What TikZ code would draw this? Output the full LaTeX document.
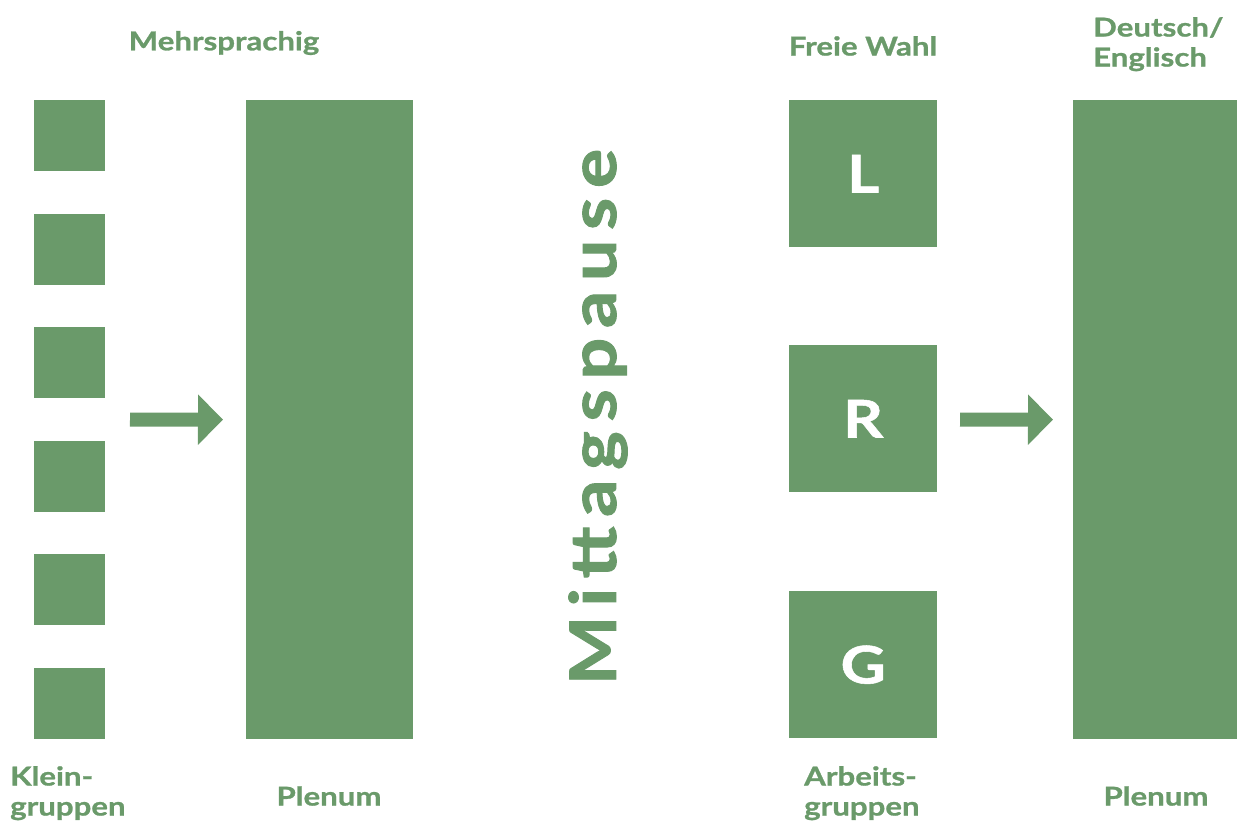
\documentclass[tikz,border=0pt]{standalone}
\usepackage{fontspec}
\setmainfont{Lato}
\newfontfamily\wide{Lato}[FakeStretch=1.2, FakeBold=1]
\newfontfamily\widepause{Lato}[FakeStretch=1.15, FakeBold=1.5, LetterSpace=15]
\usetikzlibrary{arrows.meta}
\definecolor{sage}{HTML}{6A9A6A}
\tikzset{
  block/.style={fill=sage, draw=none, inner sep=0pt, minimum width=#1},
  label/.style={text=sage, font=\wide\fontsize{26}{30}\selectfont\bfseries, inner sep=0pt},
  stack/.style={label, align=left},
  letter/.style={text=white, font=\wide\fontsize{52}{60}\selectfont\bfseries},
  flow/.style={draw=sage, line width=14pt, -{Triangle[width=49pt,length=25pt]}}
}
\begin{document}
\begin{tikzpicture}[x=1pt,y=-1pt]
\useasboundingbox (0,0) rectangle (1237,823);
% morning: small groups and plenary
\foreach \i/\y in {1/100,2/214,3/327,4/441,5/554,6/668}
  \path[fill=sage] (34,\y) rectangle ++(71,71) coordinate (sq\i);
\node[block=167pt, minimum height=639pt, anchor=north west] (plenA) at (246,100) {};
\coordinate (startA) at (130,419.5);
\draw[flow, shorten >=23pt] (startA) -- (plenA.west);
\node[label] (mehr) at (224,43) {Mehrsprachig};
\node[stack, anchor=north west] (klein) at (10,766) {Klein-\\gruppen};
\node[label] (plenumA) at (329,796) {Plenum};
% lunch break
\node[rotate=90, text=sage, inner sep=0pt,
      font=\widepause\fontsize{64}{70}\selectfont\bfseries] (pause) at (598,417) {Mittagspause};
% afternoon: working groups and plenary
\node[block=148pt, minimum height=147pt, anchor=north west] (boxL) at (789,100) {};
\node[block=148pt, minimum height=147pt, anchor=north west] (boxR) at (789,345) {};
\node[block=148pt, minimum height=147pt, anchor=north west] (boxG) at (789,591) {};
\node[letter] at (boxL) {L};
\node[letter] at (boxR) {R};
\node[letter] at (boxG) {G};
\node[block=164pt, minimum height=639pt, anchor=north west] (plenB) at (1073,100) {};
\coordinate (startB) at (960,419.5);
\draw[flow, shorten >=20pt] (startB) -- (plenB.west);
\node[label] (frei) at (863,46) {Freie Wahl};
\node[stack, anchor=north west] (deutsch) at (1093,17) {Deutsch/\\Englisch};
\node[stack, anchor=north west] (arbeit) at (804,766) {Arbeits-\\gruppen};
\node[label] (plenumB) at (1156,796) {Plenum};
\end{tikzpicture}
\end{document}
